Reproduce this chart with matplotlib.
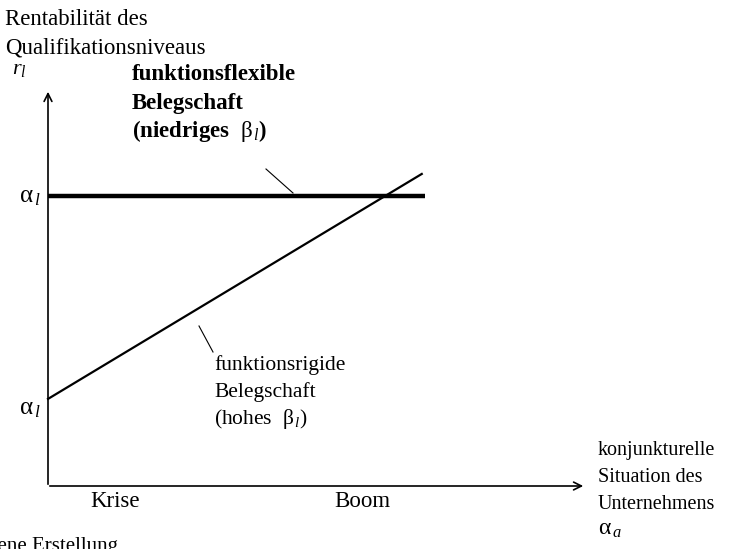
import matplotlib
matplotlib.use("Agg")
import matplotlib.pyplot as plt

# chart values (abstract units: x = economic situation, y = profitability)
situation_labels = ["Krise", "Boom"]
situation_pos = [1.25, 5.85]
flex_x = [0.0, 7.02]
flex_y = [7.36, 7.36]
rigid_x = [0.0, 6.96]
rigid_y = [2.21, 7.92]

W, H = 746, 549
X0, Y0 = 48, 486          # origin in pixels
PX_X, PX_Y = 53.7, 39.4   # pixels per data unit

plt.rcParams["font.family"] = ["Liberation Serif", "DejaVu Serif"]
plt.rcParams["mathtext.fontset"] = "custom"
plt.rcParams["mathtext.rm"] = "Liberation Serif"
plt.rcParams["mathtext.it"] = "Liberation Serif:italic"
plt.rcParams["mathtext.bf"] = "Liberation Serif:bold"

fig = plt.figure(figsize=(W / 100, H / 100), dpi=100)
ax = fig.add_axes([0, 0, 1, 1])
ax.set_xlim(-X0 / PX_X, (W - X0) / PX_X)
ax.set_ylim(-(H - Y0) / PX_Y, Y0 / PX_Y)
ax.axis("off")


def d(px, py):
    # pixel position -> data coordinates
    return (px - X0) / PX_X, (Y0 - py) / PX_Y


# axes with arrows
ax.annotate("", xy=d(48, 89), xytext=d(48, 487),
            arrowprops=dict(arrowstyle="->", lw=1.2, color="black", mutation_scale=14))
ax.annotate("", xy=d(586, 486), xytext=d(47, 486),
            arrowprops=dict(arrowstyle="->", lw=1.2, color="black", mutation_scale=14))

# lines
ax.plot(flex_x, flex_y, color="black", lw=3.2, solid_capstyle="butt")
ax.plot(rigid_x, rigid_y, color="black", lw=1.6)

# leader lines
ax.plot(*zip(d(266, 169), d(293, 193)), color="black", lw=0.8)
ax.plot(*zip(d(199, 326), d(213, 352)), color="black", lw=0.8)

# axis titles
ax.text(*d(5, 25), "Rentabilität des", fontsize=16.5, va="baseline")
ax.text(*d(5, 53), "Qualifikationsniveaus", fontsize=16.5, va="baseline")
ax.text(*d(12, 74), r"$r_l$", fontsize=16, va="baseline")

ax.text(*d(19, 202), r"$\mathrm{α}_{\,l}$", fontsize=18, va="baseline")
ax.text(*d(19, 414), r"$\mathrm{α}_{\,l}$", fontsize=18, va="baseline")

# flexible label
ax.text(*d(132, 80), "funktionsflexible", fontsize=16.5, fontweight="bold", va="baseline")
ax.text(*d(132, 109), "Belegschaft", fontsize=16.5, fontweight="bold", va="baseline")
ax.text(*d(132, 137), r"(niedriges  $\mathrm{β}_{\,l}$)", fontsize=16.5, fontweight="bold", va="baseline")

# rigid label
ax.text(*d(214, 370), "funktionsrigide", fontsize=15.5, va="baseline")
ax.text(*d(214, 397), "Belegschaft", fontsize=15.5, va="baseline")
ax.text(*d(214, 424), r"(hohes  $\mathrm{β}_{\,l}$)", fontsize=15.5, va="baseline")

# x categories
for lab, xp in zip(situation_labels, situation_pos):
    ax.text(xp, d(0, 507)[1], lab, fontsize=16.5, ha="center", va="baseline")

# x axis title
ax.text(*d(598, 455), "konjunkturelle", fontsize=14.5, va="baseline")
ax.text(*d(598, 482), "Situation des", fontsize=14.5, va="baseline")
ax.text(*d(598, 509), "Unternehmens", fontsize=14.5, va="baseline")
ax.text(*d(598, 535), r"$\mathrm{α}_{\,a}$", fontsize=17, va="baseline")

# source (cut off at the left edge)
ax.text(*d(118, 551), "Quelle: eigene Erstellung", fontsize=15, ha="right", va="baseline")

fig.savefig("out.png", dpi=100, facecolor="white")
